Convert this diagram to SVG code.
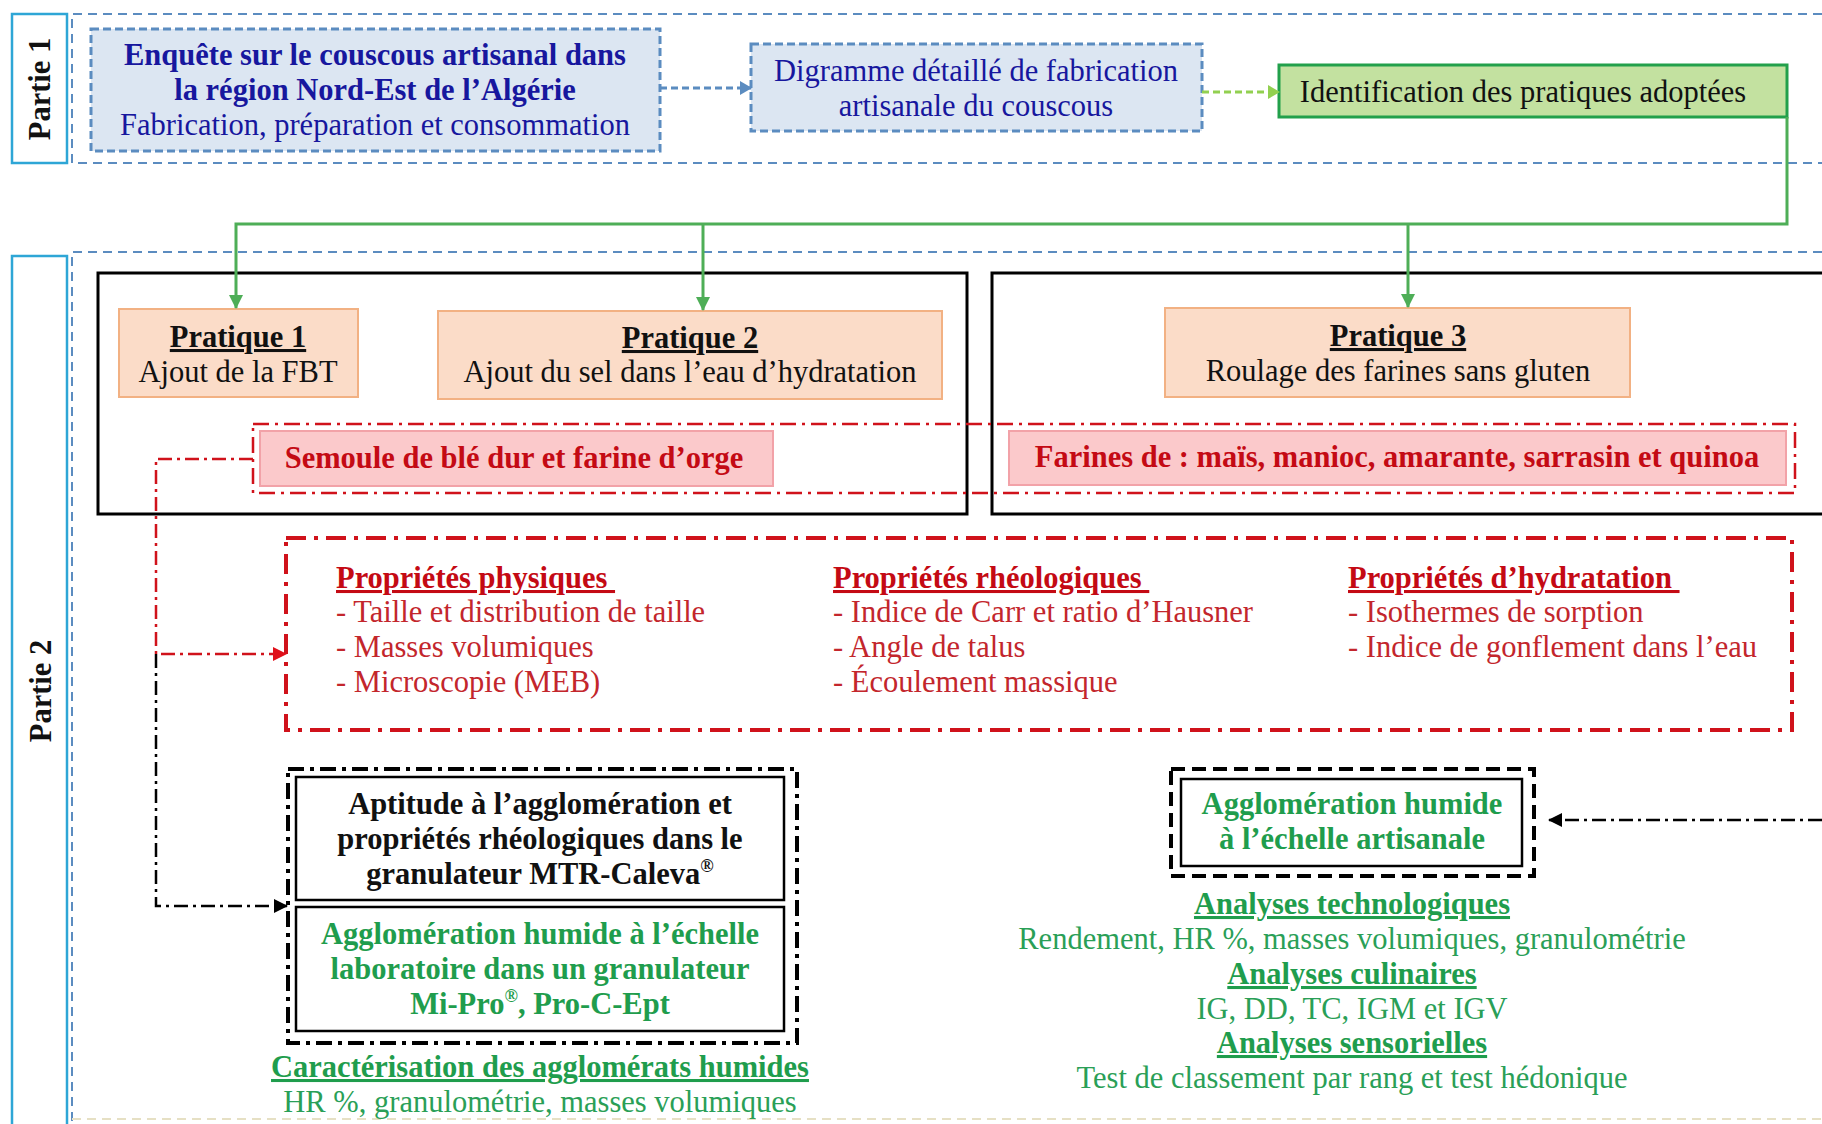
<svg xmlns="http://www.w3.org/2000/svg" width="1822" height="1124" viewBox="0 0 1822 1124">
<style>
text{font-family:"Liberation Serif","Times New Roman",serif;font-size:30.5px}
.b{font-weight:bold}
.u{text-decoration:underline}
.c{text-anchor:middle}
.blue{fill:#17179e}
.blk{fill:#111}
.red{fill:#c40a14}
.redn{fill:#c3262c}
.grn{fill:#1f9d4d}
.grnn{fill:#2a9f57}
.frame{fill:none;stroke:#5b8cc0;stroke-width:2;stroke-dasharray:9 6}
.plabel{fill:#fff;stroke:#2ea6d6;stroke-width:2.5}
.bluebox{fill:#dce6f2;stroke:#5b8cc0;stroke-width:3;stroke-dasharray:8 4}
.peach{fill:#fbdcc8;stroke:#f2b183;stroke-width:2}
.pink{fill:#fbc9cb;stroke:#f2a2a8;stroke-width:2}
.rdd{fill:none;stroke:#d0121b;stroke-width:2.5;stroke-dasharray:16 6 3 6}
.rddk{fill:none;stroke:#d0121b;stroke-width:4;stroke-dasharray:20 8 4 8}
.bdd{fill:none;stroke:#000;stroke-width:4;stroke-dasharray:16 6 4 6}
.bdash{fill:none;stroke:#000;stroke-width:4;stroke-dasharray:14 7}
.solid{fill:#fff;stroke:#000;stroke-width:2.5}
</style>
<defs>
<marker id="aBlue" markerUnits="userSpaceOnUse" markerWidth="12" markerHeight="14" refX="11" refY="7" orient="auto"><path d="M0,0 L12,7 L0,14 Z" fill="#5b8cc0"/></marker>
<marker id="aLG" markerUnits="userSpaceOnUse" markerWidth="12" markerHeight="14" refX="11" refY="7" orient="auto"><path d="M0,0 L12,7 L0,14 Z" fill="#92d050"/></marker>
<marker id="aG" markerUnits="userSpaceOnUse" markerWidth="14" markerHeight="14" refX="13" refY="7" orient="auto"><path d="M0,0 L14,7 L0,14 Z" fill="#4eae57"/></marker>
<marker id="aR" markerUnits="userSpaceOnUse" markerWidth="14" markerHeight="14" refX="13" refY="7" orient="auto"><path d="M0,0 L14,7 L0,14 Z" fill="#e0101a"/></marker>
<marker id="aK" markerUnits="userSpaceOnUse" markerWidth="14" markerHeight="14" refX="13" refY="7" orient="auto"><path d="M0,0 L14,7 L0,14 Z" fill="#000"/></marker>
</defs>
<rect width="1822" height="1124" fill="#fff"/>

<!-- Part frames -->
<g id="partie1">
<path class="frame" d="M1822,14 L72,14 L72,163 L1822,163"/>
<rect class="plabel" x="12" y="14" width="55" height="149"/>
<text class="b c blk" font-size="31" transform="translate(50,89) rotate(-90)">Partie 1</text>
</g>
<g id="partie2">
<path class="frame" d="M1822,252 L72,252 L72,1124"/>
<path d="M72,1119 L1822,1119" fill="none" stroke="#e6e0c4" stroke-width="2" stroke-dasharray="9 6"/>
<rect class="plabel" x="12" y="256" width="55" height="900"/>
<text class="b c blk" font-size="31" transform="translate(51,691) rotate(-90)">Partie 2</text>
</g>

<!-- Containers -->
<g id="practice-box-left"><rect x="98" y="273" width="869" height="241" fill="none" stroke="#000" stroke-width="3"/></g>
<g id="practice-box-right"><rect x="992" y="273" width="850" height="241" fill="none" stroke="#000" stroke-width="3"/></g>

<!-- Part 1 nodes -->
<g id="enquete">
<rect class="bluebox" x="91" y="29" width="569" height="122"/>
<text class="b c blue" x="375" y="65">Enquête sur le couscous artisanal dans</text>
<text class="b c blue" x="375" y="100">la région Nord-Est de l’Algérie</text>
<text class="c blue" x="375" y="135">Fabrication, préparation et consommation</text>
</g>
<g id="digramme">
<rect class="bluebox" x="751" y="44" width="451" height="87"/>
<text class="c blue" x="976" y="81">Digramme détaillé de fabrication</text>
<text class="c blue" x="976" y="116">artisanale du couscous</text>
</g>
<g id="identification">
<rect x="1279" y="65" width="508" height="52" fill="#c3e1a0" stroke="#22a04b" stroke-width="3"/>
<text class="c blk" x="1523" y="102">Identification des pratiques adoptées</text>
</g>

<!-- Pratiques -->
<g id="pratique1">
<rect class="peach" x="119" y="309" width="239" height="88"/>
<text class="b u c blk" x="238" y="347">Pratique 1</text>
<text class="c blk" x="238" y="382">Ajout de la FBT</text>
</g>
<g id="pratique2">
<rect class="peach" x="438" y="311" width="504" height="88"/>
<text class="b u c blk" x="690" y="348">Pratique 2</text>
<text class="c blk" x="690" y="382" font-size="27.5">Ajout du sel dans l’eau d’hydratation</text>
</g>
<g id="pratique3">
<rect class="peach" x="1165" y="308" width="465" height="89"/>
<text class="b u c blk" x="1398" y="346">Pratique 3</text>
<text class="c blk" x="1398" y="381">Roulage des farines sans gluten</text>
</g>

<!-- Matières -->
<g id="matieres">
<rect class="rdd" x="253" y="424" width="1542" height="69"/>
<rect class="pink" x="260" y="431" width="513" height="55"/>
<text class="b c red" x="514" y="468">Semoule de blé dur et farine d’orge</text>
<rect class="pink" x="1009" y="431" width="777" height="54"/>
<text class="b c red" x="1397" y="467">Farines de : maïs, manioc, amarante, sarrasin et quinoa</text>
</g>

<!-- Propriétés -->
<g id="proprietes">
<rect class="rddk" x="286" y="538" width="1506" height="192"/>
<text class="b u red" x="336" y="588" xml:space="preserve">Propriétés physiques </text>
<text class="redn" x="336" y="622">- Taille et distribution de taille</text>
<text class="redn" x="336" y="657">- Masses volumiques</text>
<text class="redn" x="336" y="692">- Microscopie (MEB)</text>
<text class="b u red" x="833" y="588" xml:space="preserve">Propriétés rhéologiques </text>
<text class="redn" x="833" y="622">- Indice de Carr et ratio d’Hausner</text>
<text class="redn" x="833" y="657">- Angle de talus</text>
<text class="redn" x="833" y="692">- Écoulement massique</text>
<text class="b u red" x="1348" y="588" xml:space="preserve">Propriétés d’hydratation </text>
<text class="redn" x="1348" y="622">- Isothermes de sorption</text>
<text class="redn" x="1348" y="657">- Indice de gonflement dans l’eau</text>
</g>

<!-- Laboratoire -->
<g id="laboratoire">
<rect class="bdd" x="288" y="769" width="509" height="274"/>
<rect class="solid" x="296" y="777" width="488" height="123"/>
<text class="b c blk" x="540" y="814">Aptitude à l’agglomération et</text>
<text class="b c blk" x="540" y="849">propriétés rhéologiques dans le</text>
<text class="b c blk" x="540" y="884">granulateur MTR-Caleva<tspan font-size="18" dy="-12">®</tspan></text>
<rect class="solid" x="296" y="907" width="488" height="124"/>
<text class="b c grn" x="540" y="944">Agglomération humide à l’échelle</text>
<text class="b c grn" x="540" y="979">laboratoire dans un granulateur</text>
<text class="b c grn" x="540" y="1014">Mi-Pro<tspan font-size="18" dy="-12">®</tspan><tspan dy="12">, Pro-C-Ept</tspan></text>
<text class="b u c grn" x="540" y="1077">Caractérisation des agglomérats humides</text>
<text class="c grnn" x="540" y="1112">HR %, granulométrie, masses volumiques</text>
</g>

<!-- Artisanale -->
<g id="artisanale">
<rect class="bdash" x="1171" y="769" width="363" height="107"/>
<rect class="solid" x="1181" y="779" width="341" height="87"/>
<text class="b c grn" x="1352" y="814">Agglomération humide</text>
<text class="b c grn" x="1352" y="849">à l’échelle artisanale</text>
<text class="b u c grn" x="1352" y="914">Analyses technologiques</text>
<text class="c grnn" x="1352" y="949">Rendement, HR %, masses volumiques, granulométrie</text>
<text class="b u c grn" x="1352" y="984">Analyses culinaires</text>
<text class="c grnn" x="1352" y="1019">IG, DD, TC, IGM et IGV</text>
<text class="b u c grn" x="1352" y="1053">Analyses sensorielles</text>
<text class="c grnn" x="1352" y="1088">Test de classement par rang et test hédonique</text>
</g>

<!-- Connectors -->
<g id="connectors" fill="none">
<path d="M660,88 L751,88" stroke="#5b8cc0" stroke-width="3" stroke-dasharray="7 4" marker-end="url(#aBlue)"/>
<path d="M1202,92 L1279,92" stroke="#92d050" stroke-width="3" stroke-dasharray="7 4" marker-end="url(#aLG)"/>
<path d="M1787,117 L1787,224 L236,224 L236,308" stroke="#4eae57" stroke-width="3" marker-end="url(#aG)"/>
<path d="M703,224 L703,310" stroke="#4eae57" stroke-width="3" marker-end="url(#aG)"/>
<path d="M1408,224 L1408,307" stroke="#4eae57" stroke-width="3" marker-end="url(#aG)"/>
<path d="M253,459 L156,459 L156,654 L286,654" stroke="#d0121b" stroke-width="2.5" stroke-dasharray="14 5 3 5" marker-end="url(#aR)"/>
<path d="M156,654 L156,906 L287,906" stroke="#000" stroke-width="2.5" stroke-dasharray="14 5 3 5" marker-end="url(#aK)"/>
<path d="M1822,820 L1549,820" stroke="#000" stroke-width="2.5" stroke-dasharray="14 5 3 5" marker-end="url(#aK)"/>
</g>
</svg>
